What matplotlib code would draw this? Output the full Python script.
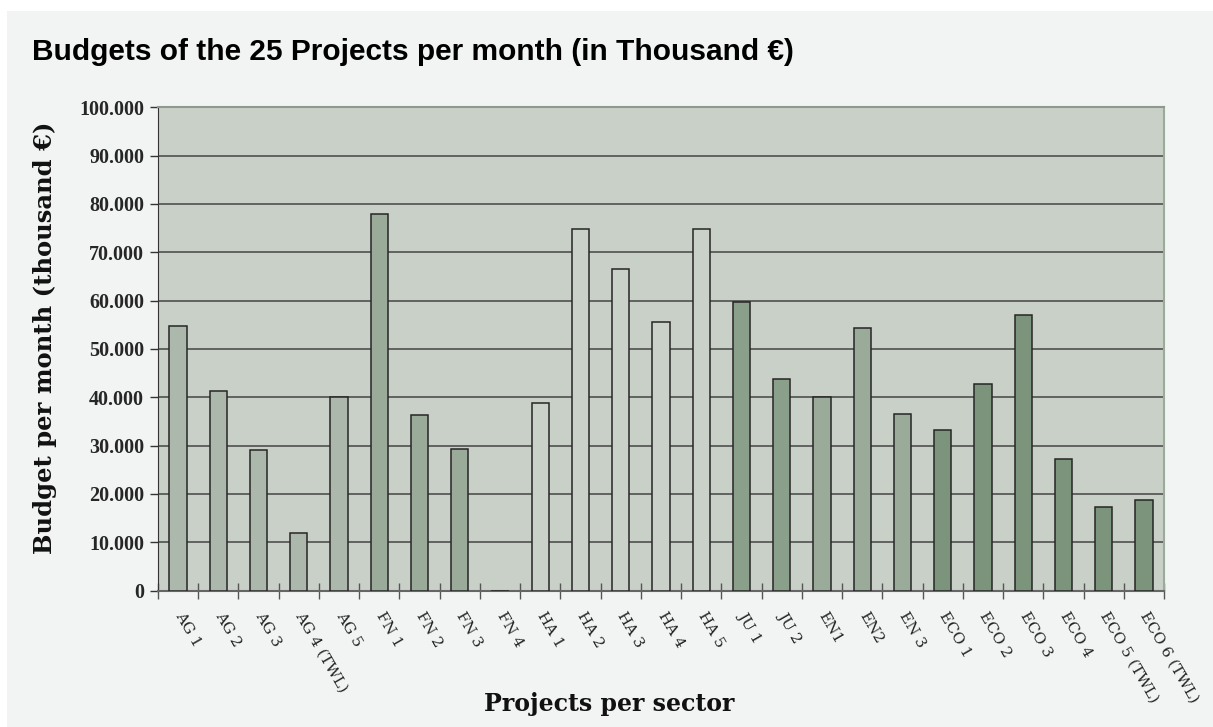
import numpy as np
import matplotlib.pyplot as plt
from matplotlib.patches import Rectangle

# data (thousand EUR per month)
projects = ["AG 1", "AG 2", "AG 3", "AG 4 (TWL)", "AG 5",
            "FN 1", "FN 2", "FN 3", "FN 4",
            "HA 1", "HA 2", "HA 3", "HA 4", "HA 5",
            "JU 1", "JU 2",
            "EN1", "EN2", "EN 3",
            "ECO 1", "ECO 2", "ECO 3", "ECO 4", "ECO 5 (TWL)", "ECO 6 (TWL)"]
budgets = [54800, 41400, 29100, 12000, 40000,
           78000, 36300, 29400, 0,
           38800, 74900, 66500, 55500, 74900,
           59800, 43700,
           40000, 54300, 36600,
           33300, 42800, 57000, 27300, 17300, 18800]
sectors = ["AG"] * 5 + ["FN"] * 4 + ["HA"] * 5 + ["JU"] * 2 + ["EN"] * 3 + ["ECO"] * 6

sector_colors = {"AG": "#abb8ab", "FN": "#9aab9a", "HA": "#c9d1c9",
                 "JU": "#8ba08b", "EN": "#9aab9a", "ECO": "#7b947b"}

fig = plt.figure(figsize=(12.13, 7.27), dpi=100, facecolor="white")
# light panel behind everything
fig.patches.append(Rectangle((7 / 1213, 0), 1, 1 - 11 / 727, transform=fig.transFigure,
                             facecolor="#f2f4f3", edgecolor="none", zorder=-10))

ax = fig.add_axes([158 / 1213, 1 - 590.6 / 727, (1164 - 158) / 1213, (590.6 - 107.3) / 727])
ax.set_facecolor("#c9d0c8")

x = np.arange(len(projects))
ax.bar(x, budgets, width=0.43, color=[sector_colors[s] for s in sectors],
       edgecolor="#262626", linewidth=1.1, zorder=3)

ax.set_xlim(-0.5, len(projects) - 0.5)
ax.set_ylim(0, 100000)
yticks = np.arange(0, 100001, 10000)
ax.set_yticks(yticks)
ax.set_yticklabels(["0" if v == 0 else f"{v // 1000}.000" for v in yticks],
                   fontfamily="Liberation Serif", fontweight="bold", fontsize=14.5, color="#262626")
ax.grid(axis="y", color="#454545", linewidth=1.1, zorder=1)
ax.tick_params(axis="y", direction="out", length=6, width=1, color="#333333", pad=4)

ax.set_xticks(x)
ax.set_xticklabels(projects, rotation=-60, rotation_mode="anchor", ha="left", va="center",
                   fontfamily="DejaVu Serif", fontsize=11, color="#222222")
ax.set_xticks(np.arange(-0.5, len(projects)), minor=True)
ax.tick_params(axis="x", which="major", length=0, pad=16)
ax.tick_params(axis="x", which="minor", direction="inout", length=11, width=1, color="#555555")

ax.spines["left"].set_color("#333333")
ax.spines["bottom"].set_color("#666666")
ax.spines["bottom"].set_linewidth(1.5)
ax.spines["top"].set_color("#8c998c")
ax.spines["top"].set_linewidth(1.5)
ax.spines["right"].set_color("#9aab9a")
ax.spines["right"].set_linewidth(1.5)

fig.text(32 / 1213, 1 - 60 / 727, "Budgets of the 25 Projects per month (in Thousand €)",
         fontfamily="Liberation Sans", fontweight="bold", fontsize=21.5, color="black",
         va="baseline", ha="left")
fig.text(45 / 1213, 1 - 338 / 727, "Budget per month (thousand €)", rotation=90,
         fontfamily="DejaVu Serif", fontweight="bold", fontsize=17.5, color="#111111",
         ha="center", va="center")
fig.text(609 / 1213, 1 - 704 / 727, "Projects per sector",
         fontfamily="DejaVu Serif", fontweight="bold", fontsize=17, color="#111111",
         ha="center", va="center")

fig.savefig("out.png", dpi=100, facecolor=fig.get_facecolor())
